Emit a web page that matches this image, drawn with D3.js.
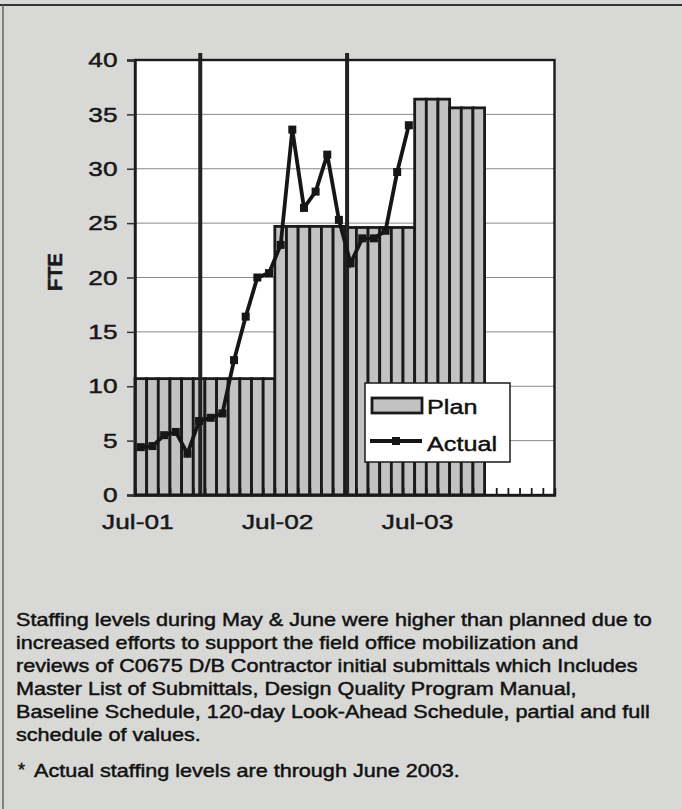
<!DOCTYPE html>
<html>
<head>
<meta charset="utf-8">
<script src="https://cdn.jsdelivr.net/npm/d3@7"></script>
<style>
  body { margin: 0; background: #d8d8d6; }
  svg { display: block; font-family: Arial, "Liberation Sans", sans-serif; }
  text { stroke: #111; stroke-width: 0.45px; }
</style>
</head>
<body>
<svg class="board" width="682" height="809"></svg>
<script>
// monthly categories, Jul-01 .. Jun-04
var months = ['Jul-01','Aug-01','Sep-01','Oct-01','Nov-01','Dec-01','Jan-02','Feb-02','Mar-02','Apr-02','May-02','Jun-02',
  'Jul-02','Aug-02','Sep-02','Oct-02','Nov-02','Dec-02','Jan-03','Feb-03','Mar-03','Apr-03','May-03','Jun-03',
  'Jul-03','Aug-03','Sep-03','Oct-03','Nov-03','Dec-03','Jan-04','Feb-04','Mar-04','Apr-04','May-04','Jun-04'];
var tickLabels = ['Jul-01', 'Jul-02', 'Jul-03'];
var plan = [10.7,10.7,10.7,10.7,10.7,10.7,10.7,10.7,10.7,10.7,10.7,10.7,
  24.7,24.7,24.7,24.7,24.7,24.7,24.6,24.6,24.6,24.6,24.6,24.6,
  36.4,36.4,36.4,35.6,35.6,35.6,null,null,null,null,null,null];
var actual = [4.4,4.5,5.5,5.8,3.8,6.8,7.1,7.5,12.4,16.4,20.0,20.4,
  23.0,33.6,26.4,27.9,31.3,25.3,21.3,23.6,23.6,24.3,29.7,34.0];
var markerMonths = [5.6, 18.2]; // vertical event lines, in month units
var yTicks = [0,5,10,15,20,25,30,35,40];
var noteLines = [
  'Staffing levels during May & June were higher than planned due to',
  'increased efforts to support the field office mobilization and',
  'reviews of C0675 D/B Contractor initial submittals which Includes',
  'Master List of Submittals, Design Quality Program Manual,',
  'Baseline Schedule, 120-day Look-Ahead Schedule, partial and full',
  'schedule of values.'
];
var footnote = 'Actual staffing levels are through June 2003.';

var svg = d3.select('.board');
var plotL = 135, plotR = 554.5, plotT = 60, plotB = 495;
var stretch = 1.2; // the scan is widened horizontally

// scanned page edges
svg.append('line').attr('x1', 0).attr('x2', 682).attr('y1', 5).attr('y2', 5)
  .attr('stroke', '#333').attr('stroke-width', 2);
svg.append('line').attr('x1', 3).attr('x2', 3).attr('y1', 5).attr('y2', 809)
  .attr('stroke', '#666').attr('stroke-width', 1.5);

var x = d3.scaleBand().domain(months).range([plotL, plotR]).padding(0);
var xi = d3.scaleLinear().domain([0, months.length]).range([plotL, plotR]);
var y = d3.scaleLinear().domain([0, 40]).range([plotB, plotT]);

svg.append('rect').attr('x', plotL).attr('y', plotT)
  .attr('width', plotR - plotL).attr('height', plotB - plotT).attr('fill', '#fff');

// gridlines
svg.append('g').selectAll('line').data(yTicks.slice(1, -1)).enter().append('line')
  .attr('x1', plotL).attr('x2', plotR)
  .attr('y1', d => y(d)).attr('y2', d => y(d))
  .attr('stroke', '#8a8a8a').attr('stroke-width', 1);

// plan bars
svg.append('g').selectAll('rect').data(plan.map((v, i) => ({ m: months[i], v: v })).filter(d => d.v != null))
  .enter().append('rect')
  .attr('x', d => x(d.m)).attr('width', x.bandwidth())
  .attr('y', d => y(d.v)).attr('height', d => y(0) - y(d.v))
  .attr('fill', '#c2c2c2').attr('stroke', '#1a1a1a').attr('stroke-width', 2.8);

// event lines
svg.append('g').selectAll('line').data(markerMonths).enter().append('line')
  .attr('x1', d => xi(d)).attr('x2', d => xi(d))
  .attr('y1', plotT - 7).attr('y2', plotB)
  .attr('stroke', '#222').attr('stroke-width', 4);

// actual line
var line = d3.line().x((d, i) => x(months[i]) + x.bandwidth() / 2).y(d => y(d));
svg.append('path').datum(actual).attr('d', line)
  .attr('fill', 'none').attr('stroke', '#161616').attr('stroke-width', 3.8);
svg.append('g').selectAll('rect').data(actual).enter().append('rect')
  .attr('x', (d, i) => x(months[i]) + x.bandwidth() / 2 - 4)
  .attr('y', d => y(d) - 4).attr('width', 8).attr('height', 8)
  .attr('fill', '#161616');

// frame
svg.append('rect').attr('x', plotL).attr('y', plotT)
  .attr('width', plotR - plotL).attr('height', plotB - plotT)
  .attr('fill', 'none').attr('stroke', '#1a1a1a').attr('stroke-width', 2.4);

// y axis
var yAxis = svg.append('g').attr('transform', `translate(${plotL},0)`)
  .call(d3.axisLeft(y).tickValues(yTicks).tickSize(8).tickPadding(6));
yAxis.select('.domain').attr('stroke', '#1a1a1a').attr('stroke-width', 2.4);
yAxis.selectAll('.tick line').attr('stroke', '#333').attr('stroke-width', 1.5);
yAxis.selectAll('.tick text').attr('font-size', 21).attr('fill', '#1a1a1a')
  .attr('font-family', 'Arial, "Liberation Sans", sans-serif')
  .attr('transform', `scale(${stretch + 0.05},1)`);

// x axis category ticks (inside)
var xAxis = svg.append('g').attr('transform', `translate(0,${plotB})`)
  .call(d3.axisBottom(xi).tickValues(d3.range(1, months.length)).tickSize(-7).tickFormat(''));
xAxis.select('.domain').attr('stroke', '#1a1a1a').attr('stroke-width', 2.4);
xAxis.selectAll('.tick line').attr('stroke', '#1a1a1a').attr('stroke-width', 1.8);

svg.append('g').selectAll('text').data(tickLabels).enter().append('text')
  .attr('transform', d => `translate(${x(d) + x.bandwidth() / 2 - 3},${plotB + 34}) scale(${stretch + 0.05},1)`)
  .attr('text-anchor', 'middle').attr('font-size', 21).attr('fill', '#1a1a1a')
  .text(d => d);

svg.append('text').attr('transform', 'translate(62,272) rotate(-90)')
  .attr('text-anchor', 'middle').attr('font-size', 20).attr('font-weight', 'bold')
  .attr('fill', '#1a1a1a').text('FTE');

// legend
var lg = svg.append('g').attr('transform', 'translate(365,383)');
lg.append('rect').attr('width', 145).attr('height', 79)
  .attr('fill', '#fff').attr('stroke', '#1a1a1a').attr('stroke-width', 1.5);
lg.append('rect').attr('x', 7).attr('y', 15).attr('width', 50).attr('height', 15)
  .attr('fill', '#c2c2c2').attr('stroke', '#1a1a1a').attr('stroke-width', 2.8);
lg.append('line').attr('x1', 5).attr('x2', 57).attr('y1', 58).attr('y2', 58)
  .attr('stroke', '#161616').attr('stroke-width', 3.8);
lg.append('rect').attr('x', 27).attr('y', 54).attr('width', 8).attr('height', 8).attr('fill', '#161616');
lg.append('text').attr('transform', `translate(62,31) scale(${stretch},1)`)
  .attr('font-size', 21).attr('fill', '#111').text('Plan');
lg.append('text').attr('transform', `translate(62,68) scale(${stretch},1)`)
  .attr('font-size', 21).attr('fill', '#111').text('Actual');

// notes
svg.append('g').selectAll('text').data(noteLines).enter().append('text')
  .attr('transform', (d, i) => `translate(16,${626 + i * 23}) scale(${stretch},1)`)
  .attr('font-size', 18).attr('fill', '#111').text(d => d);
svg.append('text').attr('x', 18).attr('y', 776).attr('font-size', 18).attr('fill', '#111').text('*');
svg.append('text').attr('transform', `translate(34,777) scale(${stretch},1)`)
  .attr('font-size', 18).attr('fill', '#111').text(footnote);
</script>
</body>
</html>
